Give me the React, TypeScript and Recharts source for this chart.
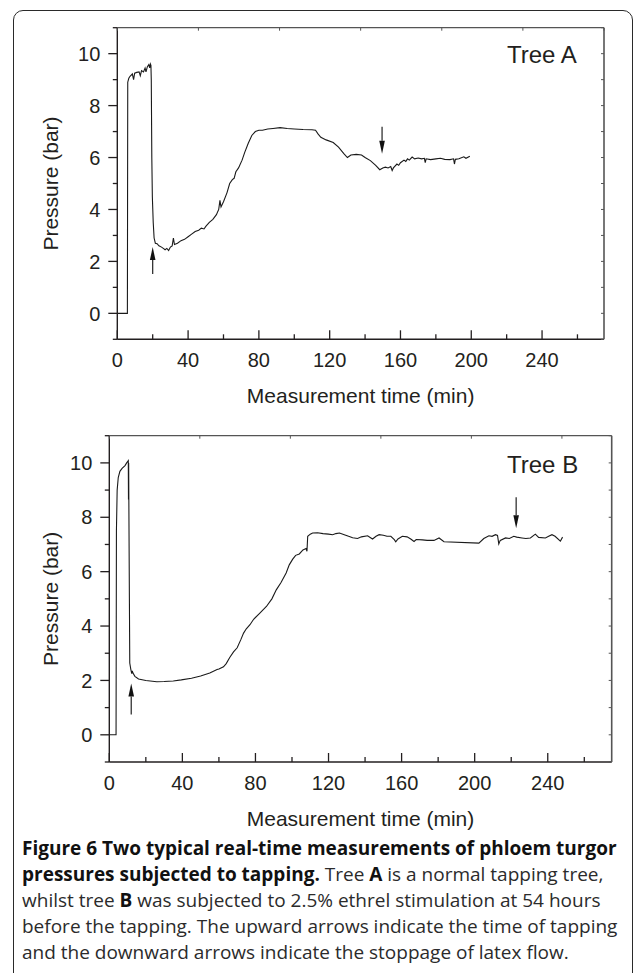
import React from 'react';
import { LineChart, Line, XAxis, YAxis, ReferenceDot } from 'recharts';

// ---------- data ----------
const timeA = [
  0, 5.7, 5.9, 6.5, 7.2, 8.5, 9.2, 9.8, 11, 12.3,
  13, 13.7, 14.8, 15.7, 16.2, 17, 17.8, 18.3, 18.7, 19.0,
  19.2, 19.5, 19.8, 20.3, 20.8, 21.5, 22.5, 23.5, 25, 26,
  27, 28, 29, 30, 31, 31.7, 32.3, 34, 36, 38,
  40, 42, 44, 46, 47.5, 49, 50, 52, 54, 56,
  57.3, 58, 58.6, 60, 62, 63.5, 65, 66, 67, 68.5,
  70.5, 72, 74, 76, 78, 80, 82, 85, 88, 92,
  96, 100, 105, 110, 112, 113.5, 115, 118, 122, 125,
  128, 130, 132, 135, 138, 140, 143, 146, 148.3, 150,
  151.5, 153, 154.5, 155.3, 156, 158, 159, 160, 162, 163,
  164, 165, 166.6, 168, 170, 172, 173.5, 174, 174.5, 177,
  180, 182.6, 185, 188, 190, 190.5, 191, 193, 195.8, 197,
  199.2,
];
const pressureA = [
  0, 0, 8.9, 9.05, 9.13, 9.22, 9.0, 9.25, 9.28, 9.3,
  9.15, 9.35, 9.3, 9.45, 9.3, 9.5, 9.58, 9.45, 9.6, 9.55,
  9.0, 6.0, 4.5, 3.5, 2.9, 2.7, 2.68, 2.6, 2.55, 2.5,
  2.45, 2.5, 2.42, 2.55, 2.6, 2.9, 2.65, 2.7, 2.8, 2.85,
  2.95, 3.05, 3.15, 3.2, 3.28, 3.25, 3.35, 3.5, 3.62, 3.8,
  4.0, 4.35, 4.1, 4.3, 4.65, 5.0, 5.15, 5.2, 5.45, 5.6,
  5.9, 6.2, 6.55, 6.85, 7.0, 7.05, 7.05, 7.1, 7.12, 7.15,
  7.12, 7.1, 7.08, 7.07, 7.05, 6.9, 6.78, 6.68, 6.58, 6.4,
  6.15, 6.0, 6.1, 6.12, 6.1, 6.0, 5.88, 5.7, 5.53, 5.6,
  5.63, 5.6, 5.65, 5.5, 5.6, 5.75, 5.7, 5.8, 5.9, 5.85,
  5.95, 5.9, 6.02, 5.95, 5.98, 5.95, 5.97, 5.8, 5.95, 5.92,
  5.95, 5.97, 5.93, 5.92, 5.95, 5.75, 5.93, 5.95, 6.03, 5.97,
  6.05,
];

const timeB = [
  0, 3.7, 3.9, 4.3, 4.9, 5.8, 7, 8.6, 9.5, 10.4,
  10.5, 10.6, 10.7, 11.0, 11.2, 11.8, 12.3, 12.6, 12.9, 14,
  16, 20, 26, 30, 35, 39.4, 45, 50, 55, 59,
  60, 62.5, 64, 66, 68, 70, 72, 73.5, 75, 77,
  79, 82, 86, 89, 91.4, 94, 96.8, 98.5, 100.4, 102,
  104, 106, 107.7, 108.2, 108.6, 110, 111.3, 114, 117, 120,
  122.3, 124, 126, 129, 131, 133.2, 135.9, 138, 141.4, 143,
  144.1, 146, 147.7, 150, 152, 154.1, 156, 156.8, 158, 160.4,
  163, 165, 166.8, 168, 171.4, 174, 177.7, 180.5, 183.2, 202.3,
  205, 207.8, 209.5, 211.4, 212.5, 213.2, 214, 216.9, 219, 221.4,
  223, 225.9, 228, 230.5, 233.2, 235, 238.7, 240.5, 242.3, 244,
  246.9, 248.1,
];
const pressureB = [
  0, 0, 7.5, 9.0, 9.46, 9.69, 9.8, 9.9, 10.0, 10.08,
  8.65, 10.0, 8.6, 5.0, 2.64, 2.4, 2.25, 2.35, 2.28, 2.15,
  2.05, 2.0, 1.95, 1.96, 1.98, 2.02, 2.08, 2.16, 2.27, 2.4,
  2.42, 2.5, 2.62, 2.85, 3.05, 3.2, 3.5, 3.74, 3.9, 4.05,
  4.25, 4.45, 4.72, 5.0, 5.33, 5.6, 5.95, 6.25, 6.46, 6.6,
  6.65, 6.8, 6.85, 6.75, 7.3, 7.38, 7.42, 7.43, 7.4, 7.38,
  7.36, 7.4, 7.42, 7.35, 7.3, 7.25, 7.22, 7.28, 7.32, 7.25,
  7.2, 7.3, 7.36, 7.34, 7.3, 7.3, 7.18, 7.1, 7.2, 7.3,
  7.28, 7.2, 7.11, 7.18, 7.17, 7.15, 7.15, 7.24, 7.1, 7.05,
  7.22, 7.32, 7.3, 7.36, 7.33, 7.02, 7.15, 7.24, 7.22, 7.3,
  7.27, 7.24, 7.22, 7.24, 7.38, 7.26, 7.24, 7.3, 7.36, 7.3,
  7.12, 7.27,
];

// arrows: time (min) and pressure (bar) of the arrow tip
const arrowTimesA = [20, 149.6];
const arrowPressuresA = [2.55, 6.15];
const arrowDirsA = ['up', 'down'];
const arrowTimesB = [12, 222.7];
const arrowPressuresB = [1.89, 7.6];
const arrowDirsB = ['up', 'down'];

const xTicks = [0, 20, 40, 60, 80, 100, 120, 140, 160, 180, 200, 220, 240, 260];
const xLabelTicks = [0, 40, 80, 120, 160, 200, 240];
const yTicks = [-1, 0, 1, 2, 3, 4, 5, 6, 7, 8, 9, 10, 11];
const yLabelTicks = [0, 2, 4, 6, 8, 10];

const xDomain = [0, 275];
const yDomain = [-1, 11];

const dataA = timeA.map((t, i) => ({ t, p: pressureA[i] }));
const dataB = timeB.map((t, i) => ({ t, p: pressureB[i] }));
const arrowsA = arrowTimesA.map((t, i) => ({ t, p: arrowPressuresA[i], dir: arrowDirsA[i] }));
const arrowsB = arrowTimesB.map((t, i) => ({ t, p: arrowPressuresB[i], dir: arrowDirsB[i] }));

// ---------- styles ----------
const AXIS = '#231f20';
const BOX = '#555';
const FONT = '"Liberation Sans", Arial, Helvetica, sans-serif';
const TICK_FS = 20;

const BottomTick = (props: any) => {
  const { x, y, payload } = props;
  const v = payload.value;
  const major = xLabelTicks.includes(v);
  return (
    <g>
      <line x1={x} x2={x} y1={y} y2={y - (major ? 9 : 5)} stroke={AXIS} strokeWidth={1.3} />
      {major && (
        <text x={x} y={y + 28} textAnchor="middle" fontFamily={FONT} fontSize={TICK_FS} fill={AXIS}>
          {v}
        </text>
      )}
    </g>
  );
};

const TopTick = (props: any) => {
  const { x, y } = props;
  return <line x1={x} x2={x} y1={y} y2={y + 3} stroke={BOX} strokeWidth={1} />;
};

const LeftTick = (props: any) => {
  const { x, y, payload } = props;
  const v = payload.value;
  const major = yLabelTicks.includes(v);
  return (
    <g>
      <line x1={x} x2={x - (major ? 9 : 4.5)} y1={y} y2={y} stroke={AXIS} strokeWidth={1.3} />
      {major && (
        <text x={x - 17} y={y + 7.2} textAnchor="end" fontFamily={FONT} fontSize={TICK_FS} fill={AXIS}>
          {v}
        </text>
      )}
    </g>
  );
};

const RightTick = (props: any) => {
  const { x, y } = props;
  return <line x1={x} x2={x - 3} y1={y} y2={y} stroke={BOX} strokeWidth={1} />;
};

const Arrow = ({ cx, cy, dir, len }: any) => {
  const s = dir === 'up' ? 1 : -1;
  const tail = cy + s * len;
  const headEnd = cy + s * 13;
  return (
    <g>
      <line x1={cx} x2={cx} y1={tail} y2={headEnd} stroke="#222" strokeWidth={1.2} />
      <path d={`M${cx},${cy} L${cx - 2.8},${headEnd} L${cx + 2.8},${headEnd} Z`} fill="#111" />
    </g>
  );
};

function Panel({ data, arrows, margin, arrowLen, yTitleX }: any) {
  const XTitle = (props: any) => {
    const vb = props.viewBox;
    return (
      <text x={vb.x + vb.width / 2} y={vb.y + 64} textAnchor="middle" fontFamily={FONT} fontSize={21} fill={AXIS}>
        Measurement time (min)
      </text>
    );
  };
  const YTitle = (props: any) => {
    const vb = props.viewBox;
    const cy = vb.y + vb.height / 2;
    return (
      <text transform={`translate(${yTitleX}, ${cy}) rotate(-90)`} textAnchor="middle" fontFamily={FONT} fontSize={21} fill={AXIS}>
        Pressure (bar)
      </text>
    );
  };
  return (
    <LineChart width={633} height={420} data={data} margin={margin}>
      <XAxis
        xAxisId="b"
        dataKey="t"
        type="number"
        domain={xDomain}
        ticks={xTicks}
        interval={0}
        tickSize={0}
        tickMargin={0}
        tickLine={false}
        axisLine={{ stroke: AXIS, strokeWidth: 1.4 }}
        tick={<BottomTick />}
        height={40}
        allowDataOverflow
        label={{ content: XTitle }}
      />
      <XAxis
        xAxisId="top"
        orientation="top"
        type="number"
        domain={xDomain}
        ticks={xTicks}
        interval={0}
        tickSize={0}
        tickMargin={0}
        tickLine={false}
        axisLine={{ stroke: BOX, strokeWidth: 1.2 }}
        tick={<TopTick />}
        height={10}
        allowDataOverflow
      />
      <YAxis
        yAxisId="l"
        type="number"
        domain={yDomain}
        ticks={yTicks}
        interval={0}
        tickSize={0}
        tickMargin={0}
        tickLine={false}
        axisLine={{ stroke: AXIS, strokeWidth: 1.4 }}
        tick={<LeftTick />}
        width={60}
        allowDataOverflow
        label={{ content: YTitle }}
      />
      <YAxis
        yAxisId="r"
        orientation="right"
        type="number"
        domain={yDomain}
        ticks={yTicks}
        interval={0}
        tickSize={0}
        tickMargin={0}
        tickLine={false}
        axisLine={{ stroke: BOX, strokeWidth: 1.6 }}
        tick={<RightTick />}
        width={10}
        allowDataOverflow
      />
      <Line
        xAxisId="b"
        yAxisId="l"
        dataKey="p"
        type="linear"
        stroke="#1a1a1a"
        strokeWidth={1.1}
        dot={false}
        activeDot={false}
        isAnimationActive={false}
      />
      {arrows.map((a: any, i: number) => (
        <ReferenceDot
          key={i}
          xAxisId="b"
          yAxisId="l"
          x={a.t}
          y={a.p}
          r={0}
          shape={(props: any) => <Arrow cx={props.cx} cy={props.cy} dir={a.dir} len={arrowLen} />}
        />
      ))}
    </LineChart>
  );
}

const BOLD = { color: '#111', fontWeight: 700 };

export default function App() {
  return (
    <div style={{ position: 'absolute', left: 0, top: 0, width: 633, height: 973, overflow: 'hidden', background: '#fff' }}>
      <div
        style={{
          position: 'absolute',
          left: 13,
          top: 10,
          width: 620,
          height: 1010,
          boxSizing: 'border-box',
          border: '1.8px solid #2a2a2a',
          borderRadius: '10px 10px 0 0',
        }}
      />
      <div style={{ position: 'absolute', left: 0, top: 0 }}>
        <Panel
          data={dataA}
          arrows={arrowsA}
          arrowLen={27}
          yTitleX={58}
          margin={{ top: 17.7, right: 19, bottom: 40.7, left: 57.3 }}
        />
      </div>
      <div style={{ position: 'absolute', left: 0, top: 420 }}>
        <Panel
          data={dataB}
          arrows={arrowsB}
          arrowLen={31}
          yTitleX={58}
          margin={{ top: 5.7, right: 11.3, bottom: 38, left: 49.3 }}
        />
      </div>
      <svg style={{ position: 'absolute', left: 0, top: 0, pointerEvents: 'none' }} width={633} height={973}>
        <text x={507} y={63.3} fontFamily={FONT} fontSize={24} fill={AXIS}>Tree A</text>
        <text x={507} y={473.3} fontFamily={FONT} fontSize={24} fill={AXIS}>Tree B</text>
      </svg>
      <div
        style={{
          position: 'absolute',
          left: 22,
          top: 835,
          fontFamily: '"Open Sans", "Noto Sans", sans-serif',
          fontSize: 19,
          lineHeight: '26px',
          color: '#2b2b2b',
          whiteSpace: 'nowrap',
        }}
      >
        <div><span style={BOLD}>Figure 6 Two typical real-time measurements of phloem turgor</span></div>
        <div>
          <span style={BOLD}>pressures subjected to tapping.</span> Tree <span style={BOLD}>A</span> is a normal tapping tree,
        </div>
        <div>
          whilst tree <span style={BOLD}>B</span> was subjected to 2.5% ethrel stimulation at 54 hours
        </div>
        <div>before the tapping. The upward arrows indicate the time of tapping</div>
        <div>and the downward arrows indicate the stoppage of latex flow.</div>
      </div>
    </div>
  );
}
